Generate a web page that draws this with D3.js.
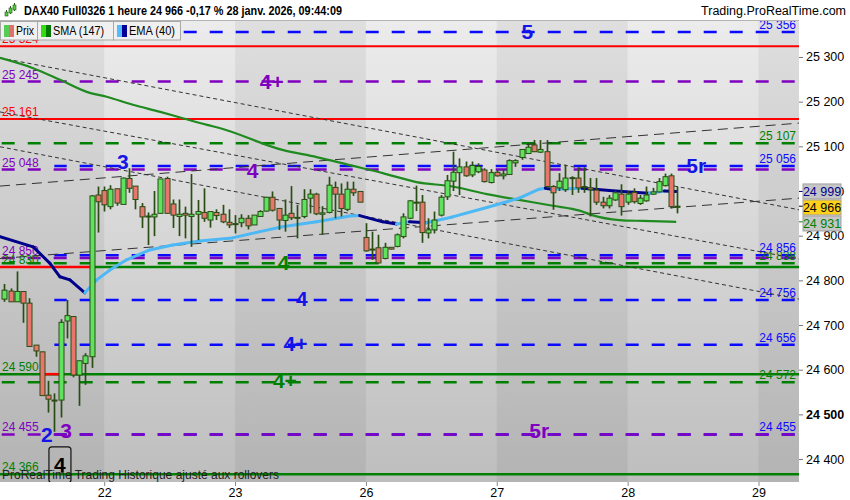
<!DOCTYPE html>
<html>
<head>
<meta charset="utf-8">
<script src="https://cdn.jsdelivr.net/npm/d3@7"></script>
<style>
  html, body { margin: 0; padding: 0; background: #fff; }
  svg { display: block; font-family: "Liberation Sans", Arial, sans-serif; }
</style>
</head>
<body>
<div id="chart"></div>
<script>
// hourly candles, DAX40 Full0326 (index 0 = first visible hour)
var opens = [24758,24776,24752,24775,24749,24655,24640,24543,24532,24532,
  24709,24719,24588,24614,24629,24991,25001,24965,25005,24970,
  25028,25011,24965,24943,24942,24950,25028,24971,24943,24950,
  24943,24948,24952,24935,24952,24948,24930,24926,24929,24939,
  24924,24943,24955,24986,24961,24934,24950,24940,24943,24984,
  24993,24948,24952,25008,24993,24959,25004,24999,24896,24870,
  24873,24849,24874,24876,24898,24939,24973,24975,24906,24913,
  24946,24987,25022,25041,25054,25036,25043,25047,25019,25042,
  25034,25037,25063,25075,25084,25103,25087,25088,25010,25007,
  25003,25029,25029,25008,25007,25002,24975,24967,24980,24993,
  24975,24997,24972,24978,24993,24998,25012,25034,24965];
var highs = [24792,24782,24820,24775,24760,24655,24640,24575,24547,24713,
  24756,24719,24620,24637,24991,25010,25010,25013,25005,25030,
  25051,25011,24973,24952,25000,25027,25032,24981,24981,24965,
  25038,24980,25006,24954,24959,24969,24959,24946,24948,24946,
  24946,24957,24987,24999,24961,24981,25011,24969,25004,25004,
  24996,24966,25032,25021,25017,25021,25021,24999,24928,24909,
  24902,24884,24874,24905,24950,24980,25012,24991,24939,24954,
  24991,25036,25088,25073,25066,25066,25062,25051,25049,25047,
  25047,25071,25071,25093,25107,25114,25114,25114,25013,25040,
  25059,25033,25051,25053,25029,25029,24987,24991,25000,25015,
  25000,25006,24991,25010,25007,25029,25039,25039,25010];
var lows = [24752,24752,24752,24705,24651,24629,24542,24504,24461,24493,
  24670,24583,24519,24566,24604,24907,24954,24959,24967,24970,
  24996,24959,24917,24879,24899,24950,24950,24917,24899,24894,
  24875,24890,24931,24918,24935,24928,24917,24905,24919,24914,
  24924,24942,24954,24954,24913,24909,24935,24894,24939,24950,
  24946,24902,24950,24939,24943,24955,24989,24975,24864,24846,
  24838,24847,24869,24874,24894,24937,24955,24884,24894,24905,
  24943,24980,25000,24991,25032,25031,25040,25019,25017,25032,
  25026,25036,25054,25070,25083,25087,25085,25006,24958,25000,
  24998,24991,24996,24996,24943,24969,24961,24961,24978,24945,
  24969,24972,24969,24976,24991,24997,25010,24961,24950];
var closes = [24778,24752,24775,24749,24652,24642,24542,24534,24531,24706,
  24721,24588,24620,24631,24989,24976,24969,25004,24973,25029,
  25006,24981,24942,24944,24948,25027,24950,24946,24948,24946,
  24948,24954,24939,24954,24945,24931,24924,24927,24939,24922,
  24946,24954,24986,24957,24935,24946,24940,24941,24981,24993,
  24949,24951,25013,24993,24961,25004,24996,24975,24866,24868,
  24839,24874,24870,24902,24942,24978,24975,24907,24913,24935,
  24986,25023,25042,25054,25034,25057,25055,25021,25041,25034,
  25038,25068,25068,25093,25098,25088,25093,25010,24996,25022,
  25029,25030,25007,25010,25003,24975,24967,24984,24996,24965,
  24993,24976,24984,24991,24998,25021,25032,24965,24966];

// first candle of each day
var dayIndex = [16, 37, 58, 79, 100, 121];
var dayLabels = ["22", "23", "26", "27", "28", "29"];
var priceTicks = [24400, 24500, 24600, 24700, 24800, 24900, 25000, 25100, 25200, 25300];

// SMA (147) and EMA (40), read at candle index positions
var smaIdx = [-0.72, 4.6, 8.9, 13.2, 16.4, 20.6, 25.0, 28.6, 32.5, 34.5, 44.6, 50.1,
  55.4, 60.7, 66.1, 71.9, 77.4, 82.6, 88.0, 92.3, 94.3, 98.7, 102.4, 107.8];
var smaVal = [25298, 25275, 25249, 25222, 25211, 25193, 25177, 25163, 25148, 25141, 25092, 25076,
  25058, 25040, 25020, 25010, 24993, 24980, 24967, 24956, 24946, 24935, 24933, 24931];
var emaIdx = [-0.72, 4.6, 7.3, 8.9, 10.5, 12.9, 14.8, 16.9, 19.6, 23.3, 27.0, 31.3,
  36.6, 41.0, 44.6, 50.1, 55.4, 57.0, 60.7, 62.9, 65.0, 67.7, 71.9, 77.4,
  82.6, 85.8, 86.8, 87.8, 92.7, 97.1, 100.8, 103.5, 105.9, 107.8];
var emaVal = [24898, 24875, 24838, 24808, 24801, 24772, 24801, 24823, 24846, 24868, 24879, 24888,
  24895, 24909, 24920, 24931, 24944, 24945, 24931, 24926, 24931, 24929, 24942, 24963,
  24984, 25004, 25006, 25004, 25006, 25001, 24997, 24995, 25000, 24999];

// horizontal levels
var blueLevels = [25356, 25056, 24856, 24756, 24656, 24455];
var purpleLevels = [25245, 25048, 24850, 24455];
var redLevels = [25324, 25161];
var greenSolidLevels = [24830, 24590, 24366];
var greenSolidFrom = [14, -0.72, -0.72];
var greenDashLevels = [25107, 24838, 24572];
var redShortLevels = [24830, 24590];
var redShortFrom = [-0.72, 6];
var redShortTo = [14, 8.8];

// trend lines: value at left edge and at right edge
var trendStart = [25298, 25177, 25099, 24849, 25011];
var trendEnd = [24958, 24848, 24758, 24984, 25152];
var trendKind = ["fine", "fine", "fine", "long", "long"];

// wave count labels
var waveText = ["5", "4+", "3", "4", "5r", "4", "4", "4+", "4+", "2", "3", "5r", "4"];
var waveIdx = [83.9, 42.9, 19.0, 39.8, 111.0, 44.8, 47.7, 46.7, 45.0, 6.8, 9.9, 85.8, 8.9];
var waveVal = [25356, 25246, 25065, 25047, 25058, 24839, 24760, 24658, 24575, 24454, 24463, 24463, 24387];
var waveKind = ["blue", "purple", "blue", "purple", "blue", "green", "blue", "blue", "green", "blue", "purple", "purple", "boxed"];

function DaxChart(element, width, height) {
  var _chart = {};

  var _margins = {
      top: 20,
      right: 51,
      bottom: 18,
      left: 0
    },
    _width = width || 850,
    _height = height || 500,
    _xDomain = [-0.72, 127.5],
    _yDomain = [24348.6, 25382.8],
    _colors = {
      blue: "#0a0aff",
      purple: "#8000c0",
      red: "#ff0000",
      green: "#008000",
      up: "#5fe35f",
      down: "#e8766c",
      wick: "#2a4d14",
      sma: "#1f8a1f",
      emaUp: "#4cb8f5",
      emaDown: "#00008b",
      trend: "#333333"
    },
    _svg, _x, _y, _fmt;

  _chart.render = function() {
    _svg = d3.select(element).append("svg")
      .attr("width", _width)
      .attr("height", _height);

    _x = d3.scaleLinear().domain(_xDomain).range([xStart(), xEnd()]);
    _y = d3.scaleLinear().domain(_yDomain).range([yStart(), yEnd()]);
    _fmt = d3.formatLocale({ decimal: ",", thousands: " ", grouping: [3], currency: ["", ""] }).format(",");

    defineDefs(_svg);
    renderBackground();
    var body = _svg.append("g").attr("clip-path", "url(#body-clip)");
    renderLevels(body);
    renderTrends(body);
    renderAverages(body);
    renderCandles(body);
    renderWaveLabels(body);
    renderAxes();
    renderPriceBoxes();
    renderHeader();
    return _chart;
  };

  function defineDefs(svg) {
    var defs = svg.append("defs");
    defs.append("clipPath").attr("id", "body-clip")
      .append("rect")
      .attr("x", xStart()).attr("y", yEnd())
      .attr("width", xEnd() - xStart()).attr("height", yStart() - yEnd());

    var grad = defs.append("linearGradient").attr("id", "bg-grad")
      .attr("x1", 0).attr("y1", 0).attr("x2", 0).attr("y2", 1);
    grad.append("stop").attr("offset", "0%").attr("stop-color", "#ececec");
    grad.append("stop").attr("offset", "100%").attr("stop-color", "#bebebe");
  }

  function renderBackground() {
    _svg.append("rect").attr("width", _width).attr("height", _height).attr("fill", "#ffffff");
    _svg.append("rect")
      .attr("x", xStart()).attr("y", yEnd())
      .attr("width", xEnd() - xStart()).attr("height", yStart() - yEnd())
      .attr("fill", "url(#bg-grad)");

    // every other day a bit darker
    var edges = [_xDomain[0]].concat(dayIndex, [_xDomain[1]]);
    var bands = [];
    for (var i = 0; i < edges.length - 1; i++) {
      if (i % 2 === 0) bands.push([edges[i], edges[i + 1]]);
    }
    _svg.selectAll("rect.band").data(bands).enter().append("rect")
      .attr("class", "band")
      .attr("x", function(d) { return _x(d[0]); })
      .attr("y", yEnd())
      .attr("width", function(d) { return _x(d[1]) - _x(d[0]); })
      .attr("height", yStart() - yEnd())
      .attr("fill", "#000").attr("fill-opacity", 0.055);
  }

  function dashOffset(x0) {
    return ((x0 - 1.7) % 26 + 26) % 26;
  }

  function hLine(g, v, from, to, color, width, dashed) {
    var x0 = _x(from);
    var l = g.append("line")
      .attr("x1", x0).attr("x2", _x(to))
      .attr("y1", _y(v)).attr("y2", _y(v))
      .attr("stroke", color).attr("stroke-width", width);
    if (dashed) {
      l.attr("stroke-dasharray", "13,13").attr("stroke-dashoffset", dashOffset(x0));
    }
  }

  function levelLabel(g, v, color, side) {
    g.append("text")
      .attr("x", side === "left" ? 2 : xEnd() - 3)
      .attr("y", _y(v) - 3)
      .attr("text-anchor", side === "left" ? "start" : "end")
      .attr("fill", color)
      .style("font-size", "12px")
      .text(_fmt(v));
  }

  function renderLevels(g) {
    var end = _xDomain[1];
    redLevels.forEach(function(v) { hLine(g, v, _xDomain[0], end, _colors.red, 2, false); });
    greenSolidLevels.forEach(function(v, i) { hLine(g, v, greenSolidFrom[i], end, _colors.green, 2.5, false); });
    redShortLevels.forEach(function(v, i) { hLine(g, v, redShortFrom[i], redShortTo[i], _colors.red, 2.5, false); });
    greenDashLevels.forEach(function(v) { hLine(g, v, _xDomain[0], end, _colors.green, 2.5, true); });
    blueLevels.forEach(function(v) { hLine(g, v, 8, end, _colors.blue, 2.5, true); });
    purpleLevels.forEach(function(v) { hLine(g, v, _xDomain[0], end, _colors.purple, 2.5, true); });

    redLevels.forEach(function(v) { levelLabel(g, v, _colors.red, "left"); });
    purpleLevels.forEach(function(v) { levelLabel(g, v, _colors.purple, "left"); });
    greenSolidLevels.forEach(function(v) { levelLabel(g, v, _colors.green, "left"); });
    greenDashLevels.forEach(function(v) { levelLabel(g, v, _colors.green, "right"); });
    blueLevels.forEach(function(v) { levelLabel(g, v, _colors.blue, "right"); });
  }

  function renderTrends(g) {
    g.selectAll("line.trend").data(trendStart).enter().append("line")
      .attr("class", "trend")
      .attr("x1", _x(_xDomain[0])).attr("x2", _x(_xDomain[1]))
      .attr("y1", function(d) { return _y(d); })
      .attr("y2", function(d, i) { return _y(trendEnd[i]); })
      .attr("stroke", _colors.trend).attr("stroke-width", 1)
      .attr("stroke-dasharray", function(d, i) { return trendKind[i] === "fine" ? "4,3" : "10,6"; });
  }

  function renderAverages(g) {
    var line = d3.line()
      .x(function(d) { return _x(d[0]); })
      .y(function(d) { return _y(d[1]); });

    g.append("path")
      .datum(d3.zip(smaIdx, smaVal))
      .attr("d", line.curve(d3.curveMonotoneX))
      .attr("fill", "none").attr("stroke", _colors.sma).attr("stroke-width", 2.2);

    // EMA coloured by direction
    var segs = [];
    for (var i = 0; i < emaIdx.length - 1; i++) {
      segs.push([[emaIdx[i], emaVal[i]], [emaIdx[i + 1], emaVal[i + 1]]]);
    }
    line.curve(d3.curveLinear);
    g.selectAll("path.ema").data(segs).enter().append("path")
      .attr("class", "ema")
      .attr("d", line)
      .attr("fill", "none")
      .attr("stroke-width", 3)
      .attr("stroke-linecap", "round")
      .attr("stroke", function(d) { return d[1][1] >= d[0][1] ? _colors.emaUp : _colors.emaDown; });
  }

  function renderCandles(g) {
    var idx = d3.range(opens.length);
    var bw = 5;
    var c = g.selectAll("g.candle").data(idx).enter().append("g").attr("class", "candle");
    c.append("line")
      .attr("x1", function(i) { return Math.round(_x(i)) + 0.5; })
      .attr("x2", function(i) { return Math.round(_x(i)) + 0.5; })
      .attr("y1", function(i) { return _y(highs[i]); })
      .attr("y2", function(i) { return _y(lows[i]); })
      .attr("stroke", _colors.wick).attr("stroke-width", 1.7);
    c.append("rect")
      .attr("x", function(i) { return Math.round(_x(i)) + 0.5 - bw / 2; })
      .attr("y", function(i) { return _y(Math.max(opens[i], closes[i])); })
      .attr("width", bw)
      .attr("height", function(i) { return Math.max(1, Math.abs(_y(opens[i]) - _y(closes[i]))); })
      .attr("fill", function(i) { return closes[i] >= opens[i] ? _colors.up : _colors.down; })
      .attr("stroke", _colors.wick).attr("stroke-width", 1);
  }

  function renderWaveLabels(g) {
    var col = { blue: "#1414e6", purple: _colors.purple, green: _colors.green, boxed: "#000" };
    waveText.forEach(function(t, i) {
      var x = _x(waveIdx[i]), y = _y(waveVal[i]);
      if (waveKind[i] === "boxed") {
        g.append("rect")
          .attr("x", x - 11).attr("y", y - 18)
          .attr("width", 22).attr("height", 36).attr("rx", 3)
          .attr("fill", "none").attr("stroke", "#111").attr("stroke-width", 1.2);
      }
      g.append("text")
        .attr("x", x).attr("y", y)
        .attr("text-anchor", "middle")
        .attr("dominant-baseline", "central")
        .attr("fill", col[waveKind[i]])
        .style("font-size", "21px").style("font-weight", "bold")
        .text(t);
    });

    g.append("text")
      .attr("x", 2).attr("y", yStart() - 3)
      .attr("fill", "#222")
      .style("font-size", "12px")
      .text("ProRealTime Trading  Historique ajusté aux rollovers");
  }

  function renderAxes() {
    var yAxis = d3.axisRight(_y).tickValues(priceTicks).tickSize(4).tickPadding(3)
      .tickFormat(function(d) { return _fmt(d); });
    var ya = _svg.append("g")
      .attr("transform", "translate(" + xEnd() + ",0)")
      .call(yAxis);
    ya.select(".domain").remove();
    ya.selectAll(".tick line").attr("stroke", "#777");
    ya.selectAll(".tick text")
      .attr("fill", "#000")
      .style("font-family", "'Liberation Sans', Arial, sans-serif")
      .style("font-size", "12.5px")
      .style("font-weight", function(d) { return d === 24500 ? "bold" : "normal"; });

    var xAxis = d3.axisBottom(_x).tickValues(dayIndex).tickSize(4).tickPadding(2)
      .tickFormat(function(d, i) { return dayLabels[i]; });
    var xa = _svg.append("g")
      .attr("transform", "translate(0," + yStart() + ")")
      .call(xAxis);
    xa.select(".domain").remove();
    xa.selectAll(".tick line").attr("stroke", "#888");
    xa.selectAll(".tick text")
      .attr("fill", "#000")
      .style("font-family", "'Liberation Sans', Arial, sans-serif")
      .style("font-size", "12.5px");
  }

  function renderPriceBoxes() {
    var boxes = [
      { v: emaVal[emaVal.length - 1], bg: "#c6c6c6", fg: _colors.emaDown, tick: _colors.emaDown },
      { v: closes[closes.length - 1], bg: "#ffd21a", fg: "#000", tick: "#000" },
      { v: smaVal[smaVal.length - 1], bg: "#c6c6c6", fg: _colors.green, tick: _colors.green }
    ];
    var prev = -100;
    boxes.forEach(function(b) {
      var y = Math.max(_y(b.v), prev + 16);
      prev = y;
      _svg.append("line")
        .attr("x1", xEnd()).attr("x2", xEnd() + 4)
        .attr("y1", _y(b.v)).attr("y2", _y(b.v))
        .attr("stroke", b.tick);
      _svg.append("rect")
        .attr("x", xEnd() + 4).attr("y", y - 7.5)
        .attr("width", 38).attr("height", 15)
        .attr("fill", b.bg).attr("stroke", "#a0a0a0");
      _svg.append("text")
        .attr("x", xEnd() + 23).attr("y", y + 4.5)
        .attr("text-anchor", "middle")
        .attr("fill", b.fg)
        .style("font-size", "12.5px")
        .text(_fmt(b.v));
    });
  }

  function renderHeader() {
    _svg.append("rect").attr("width", _width).attr("height", yEnd()).attr("fill", "#fff");
    _svg.append("line")
      .attr("x1", 0).attr("x2", xEnd())
      .attr("y1", yEnd() + 0.5).attr("y2", yEnd() + 0.5)
      .attr("stroke", "#b4b4b4");

    // small candlestick glyph
    var icon = _svg.append("g").attr("transform", "translate(5,3)");
    [[0, 7, 12, 9, 11], [4, 3, 11, 5, 8], [8, 0, 8, 2, 5]].forEach(function(c) {
      icon.append("line").attr("x1", c[0] + 1.5).attr("x2", c[0] + 1.5)
        .attr("y1", c[1]).attr("y2", c[2]).attr("stroke", "#2a5a1a");
      icon.append("rect").attr("x", c[0]).attr("y", c[3]).attr("width", 3).attr("height", c[4] - c[3] + 2)
        .attr("fill", "#4ccf3c").attr("stroke", "#2a5a1a").attr("stroke-width", 0.6);
    });

    _svg.append("text")
      .attr("x", 24).attr("y", 15)
      .attr("textLength", 318).attr("lengthAdjust", "spacingAndGlyphs")
      .style("font-size", "12.5px").style("font-weight", "bold")
      .attr("fill", "#000")
      .text("DAX40 Full0326 1 heure 24 966 -0,17 % 28 janv. 2026, 09:44:09");
    _svg.append("text")
      .attr("x", 846).attr("y", 15)
      .attr("text-anchor", "end")
      .style("font-size", "12.5px")
      .attr("fill", "#000")
      .text("Trading.ProRealTime.com");

    // legend strip
    var cells = [
      { x: 0, w: 37, text: "Prix", tl: 18, c1: "#55cc55", c2: "#e07070" },
      { x: 37, w: 76, text: "SMA (147)", tl: 51, c1: "#33dd11", c2: "#007700" },
      { x: 113, w: 67, text: "EMA (40)", tl: 46, c1: "#55bbff", c2: "#000099" }
    ];
    var lg = _svg.append("g");
    cells.forEach(function(c) {
      lg.append("rect").attr("x", c.x + 0.5).attr("y", 21.5).attr("width", c.w).attr("height", 18.5)
        .attr("fill", "#f0f0f0").attr("stroke", "#a8a8a8");
      lg.append("rect").attr("x", c.x + 4).attr("y", 25).attr("width", 5).attr("height", 12).attr("fill", c.c1);
      lg.append("rect").attr("x", c.x + 9).attr("y", 25).attr("width", 5).attr("height", 12).attr("fill", c.c2);
      lg.append("text").attr("x", c.x + 16).attr("y", 35)
        .attr("textLength", c.tl).attr("lengthAdjust", "spacingAndGlyphs")
        .style("font-size", "12.5px").attr("fill", "#000").text(c.text);
    });
  }

  function xStart() { return _margins.left; }
  function xEnd() { return _width - _margins.right; }
  function yStart() { return _height - _margins.bottom; }
  function yEnd() { return _margins.top; }

  return _chart;
}

DaxChart("#chart", 850, 500).render();
</script>
</body>
</html>
